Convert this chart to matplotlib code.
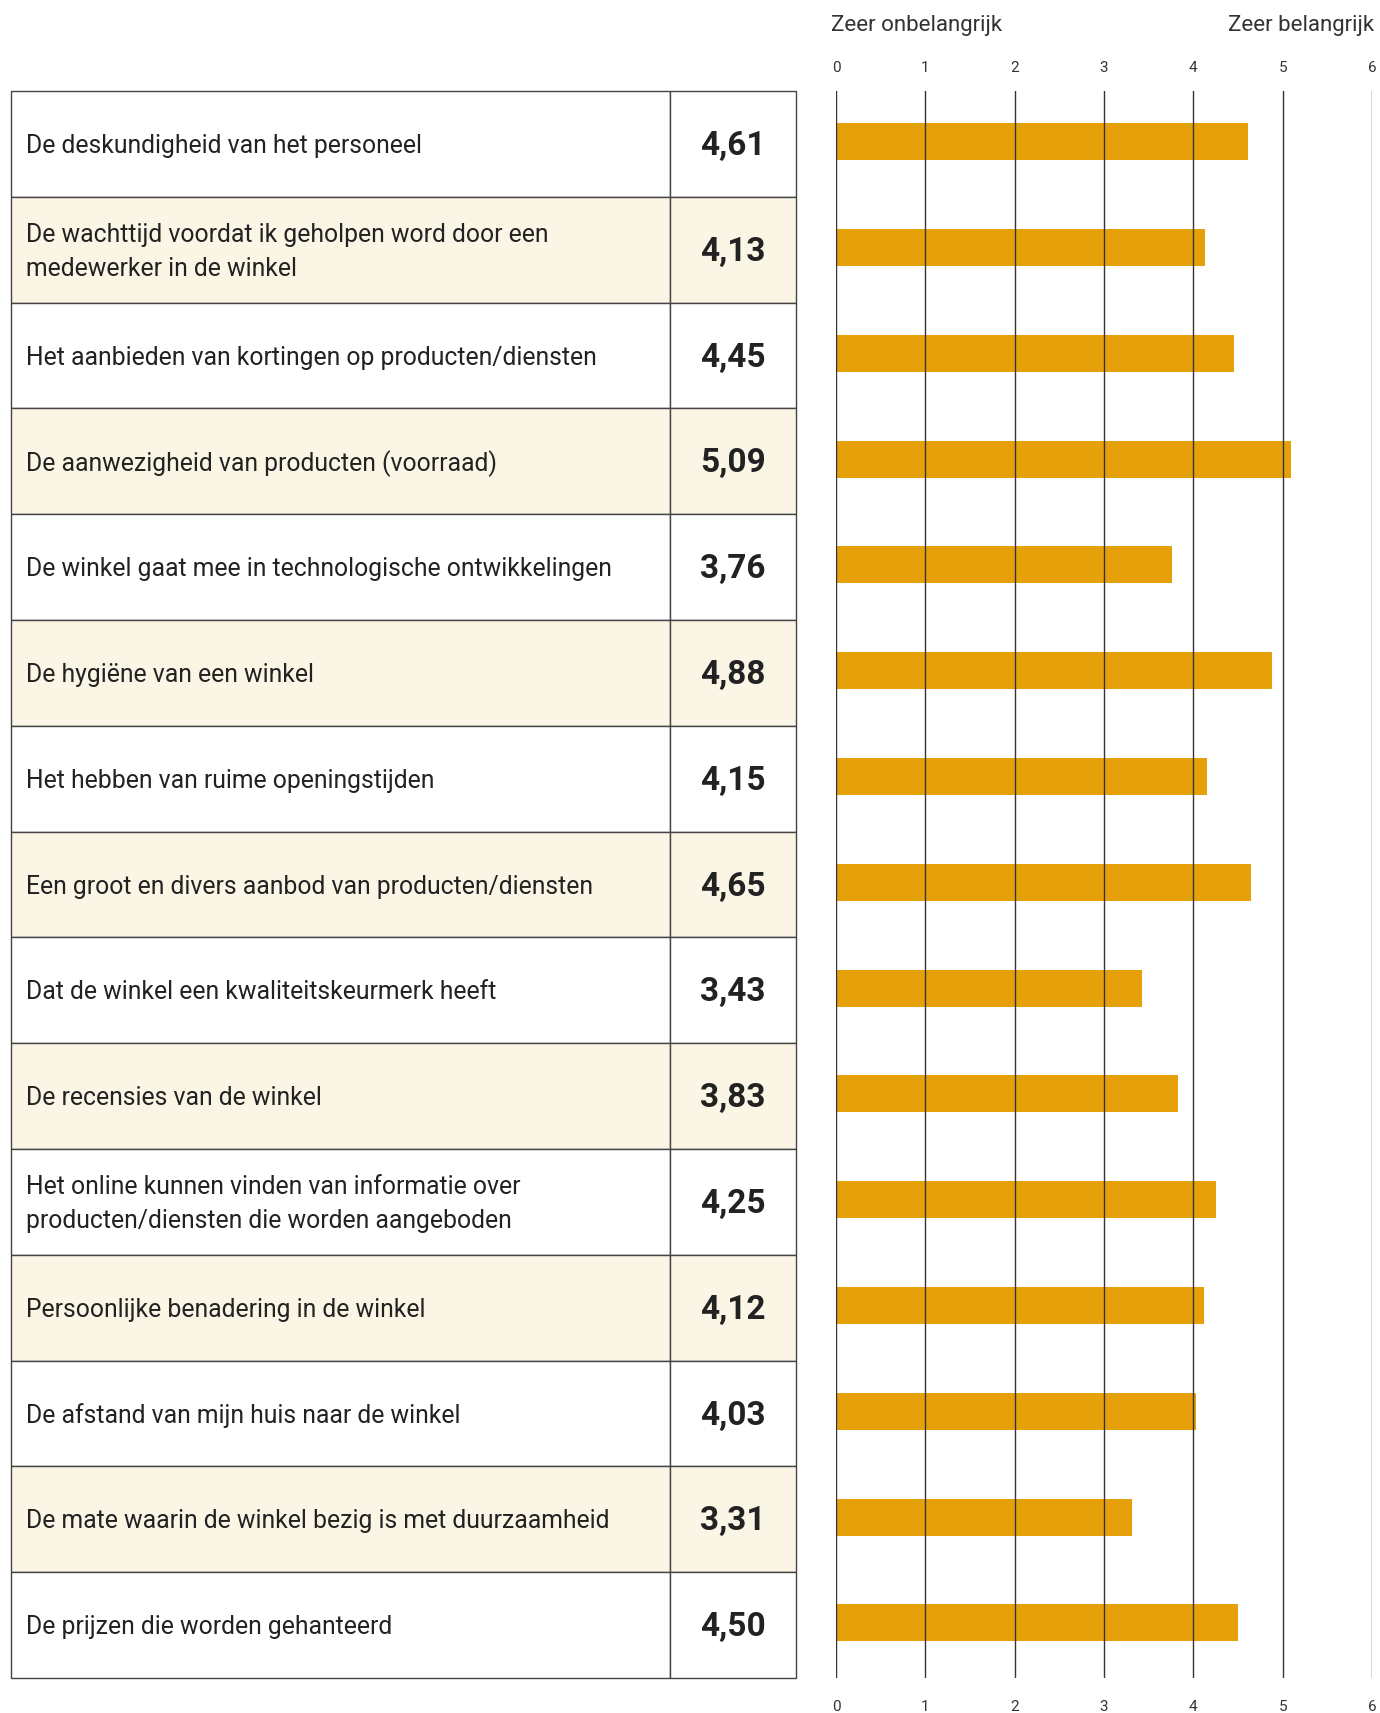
import matplotlib
matplotlib.use("Agg")
import matplotlib.pyplot as plt
from matplotlib.patches import Rectangle

labels = [
    "De deskundigheid van het personeel",
    "De wachttijd voordat ik geholpen word door een\nmedewerker in de winkel",
    "Het aanbieden van kortingen op producten/diensten",
    "De aanwezigheid van producten (voorraad)",
    "De winkel gaat mee in technologische ontwikkelingen",
    "De hygiëne van een winkel",
    "Het hebben van ruime openingstijden",
    "Een groot en divers aanbod van producten/diensten",
    "Dat de winkel een kwaliteitskeurmerk heeft",
    "De recensies van de winkel",
    "Het online kunnen vinden van informatie over\nproducten/diensten die worden aangeboden",
    "Persoonlijke benadering in de winkel",
    "De afstand van mijn huis naar de winkel",
    "De mate waarin de winkel bezig is met duurzaamheid",
    "De prijzen die worden gehanteerd",
]
values = [4.61, 4.13, 4.45, 5.09, 3.76, 4.88, 4.15, 4.65, 3.43, 3.83, 4.25, 4.12, 4.03, 3.31, 4.50]
ticks = [0, 1, 2, 3, 4, 5, 6]
left_title = "Zeer onbelangrijk"
right_title = "Zeer belangrijk"

W, H = 1380, 1713
FONT = "Roboto"
BAR = "#E6A00A"
CREAM = "#FBF5E5"
TXT = "#222222"
LINE = "#444444"

fig = plt.figure(figsize=(W / 100, H / 100), dpi=100)
fig.patch.set_facecolor("white")

top_px, bot_px = 91, 1678
n = len(labels)

def fbox(x0, x1):
    return [x0 / W, 1 - bot_px / H, (x1 - x0) / W, (bot_px - top_px) / H]

# ---- table ----
tx0, tdiv, tx1 = 11, 670, 796
tab = fig.add_axes(fbox(tx0, tx1))
tab.set_xlim(tx0, tx1)
tab.set_ylim(n, 0)
tab.axis("off")
for i, (lab, v) in enumerate(zip(labels, values)):
    fc = CREAM if i % 2 == 1 else "white"
    tab.add_patch(Rectangle((tx0, i), tdiv - tx0, 1, facecolor=fc, edgecolor=LINE, lw=1.0, clip_on=False))
    tab.add_patch(Rectangle((tdiv, i), tx1 - tdiv, 1, facecolor=fc, edgecolor=LINE, lw=1.0, clip_on=False))
    tab.text(26, i + 0.52, lab, ha="left", va="center", fontsize=17.8, family=FONT,
             color=TXT, linespacing=1.5)
    tab.text((tdiv + tx1) / 2, i + 0.52, f"{v:.2f}".replace(".", ","), ha="center", va="center",
             fontsize=24, family=FONT, fontweight="bold", color=TXT)

# ---- chart ----
cx0, cx1 = 836, 1372
ax = fig.add_axes(fbox(cx0, cx1))
ax.set_xlim(0, 6)
ax.set_ylim(n, 0)
for s in ax.spines.values():
    s.set_visible(False)
ax.set_xticks([])
ax.set_yticks([])
ax.patch.set_alpha(0)
for t in ticks:
    ax.axvline(t, color="#333333", lw=1.0, zorder=3)
ax.barh([i + 0.48 for i in range(n)], values, height=0.35, color=BAR, zorder=2, left=0)

# tick labels top & bottom
trans = ax.get_xaxis_transform()
for t in ticks:
    ax.text(t, 1 + (91 - 68) / (bot_px - top_px), str(t), transform=trans, ha="center", va="center",
            fontsize=11, family=FONT, color="#333333")
    ax.text(t, -(1707 - bot_px) / (bot_px - top_px), str(t), transform=trans, ha="center", va="center",
            fontsize=11, family=FONT, color="#333333")

fig.text(831 / W, 1 - 26 / H, left_title, ha="left", va="center", fontsize=16, family=FONT, color="#333333")
fig.text(1374 / W, 1 - 26 / H, right_title, ha="right", va="center", fontsize=16, family=FONT, color="#333333")

fig.savefig("out.png", dpi=100, facecolor="white")
